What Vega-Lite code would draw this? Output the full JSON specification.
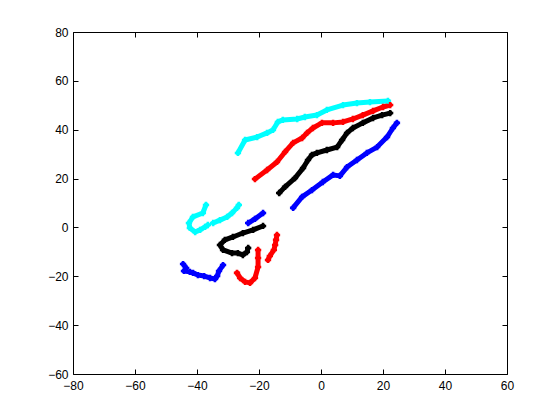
{
  "$schema": "https://vega.github.io/schema/vega-lite/v6.json",
  "autosize": "none",
  "padding": {"left": 73, "top": 32, "right": 53, "bottom": 46},
  "width": 434,
  "height": 342,
  "background": "white",
  "config": {
    "view": {"stroke": null},
    "axis": {
      "grid": false,
      "domainColor": "black",
      "domainWidth": 1,
      "tickColor": "black",
      "tickSize": -5,
      "labelColor": "black",
      "labelFont": "Liberation Sans",
      "labelFontSize": 12,
      "labelFlush": false,
      "labelOverlap": false,
      "titleFontSize": 0
    }
  },
  "data": {
    "values": [
      {"s": "cyan", "g": "c1", "i": 1, "x": -26.8, "y": 30.5},
      {"s": "cyan", "g": "c1", "i": 2, "x": -24.5, "y": 35.8},
      {"s": "cyan", "g": "c1", "i": 3, "x": -20.6, "y": 37.0},
      {"s": "cyan", "g": "c1", "i": 4, "x": -17.4, "y": 38.7},
      {"s": "cyan", "g": "c1", "i": 5, "x": -15.5, "y": 39.9},
      {"s": "cyan", "g": "c1", "i": 6, "x": -13.9, "y": 43.2},
      {"s": "cyan", "g": "c1", "i": 7, "x": -12.3, "y": 44.0},
      {"s": "cyan", "g": "c1", "i": 8, "x": -7.7, "y": 44.4},
      {"s": "cyan", "g": "c1", "i": 9, "x": -5.2, "y": 45.2},
      {"s": "cyan", "g": "c1", "i": 10, "x": -1.3, "y": 46.0},
      {"s": "cyan", "g": "c1", "i": 11, "x": 1.9, "y": 48.1},
      {"s": "cyan", "g": "c1", "i": 12, "x": 7.1, "y": 50.1},
      {"s": "cyan", "g": "c1", "i": 13, "x": 11.6, "y": 50.9},
      {"s": "cyan", "g": "c1", "i": 14, "x": 15.8, "y": 51.3},
      {"s": "cyan", "g": "c1", "i": 15, "x": 21.6, "y": 51.8},

      {"s": "cyan", "g": "c2", "i": 1, "x": -37.1, "y": 9.2},
      {"s": "cyan", "g": "c2", "i": 2, "x": -38.1, "y": 5.9},
      {"s": "cyan", "g": "c2", "i": 3, "x": -41.3, "y": 4.3},
      {"s": "cyan", "g": "c2", "i": 4, "x": -42.6, "y": 1.8},
      {"s": "cyan", "g": "c2", "i": 5, "x": -42.3, "y": -0.2},
      {"s": "cyan", "g": "c2", "i": 6, "x": -40.6, "y": -1.9},
      {"s": "cyan", "g": "c2", "i": 7, "x": -39.0, "y": -1.0},
      {"s": "cyan", "g": "c2", "i": 8, "x": -37.4, "y": 0.2},
      {"s": "cyan", "g": "c2", "i": 9, "x": -36.5, "y": 1.0},

      {"s": "cyan", "g": "c3", "i": 1, "x": -34.8, "y": 1.8},
      {"s": "cyan", "g": "c3", "i": 2, "x": -32.6, "y": 3.0},
      {"s": "cyan", "g": "c3", "i": 3, "x": -30.3, "y": 4.3},
      {"s": "cyan", "g": "c3", "i": 4, "x": -28.7, "y": 5.9},
      {"s": "cyan", "g": "c3", "i": 5, "x": -27.1, "y": 8.0},
      {"s": "cyan", "g": "c3", "i": 6, "x": -26.5, "y": 9.2},

      {"s": "red", "g": "r1", "i": 1, "x": -21.3, "y": 19.8},
      {"s": "red", "g": "r1", "i": 2, "x": -17.4, "y": 23.5},
      {"s": "red", "g": "r1", "i": 3, "x": -14.2, "y": 26.8},
      {"s": "red", "g": "r1", "i": 4, "x": -11.6, "y": 30.9},
      {"s": "red", "g": "r1", "i": 5, "x": -9.0, "y": 34.6},
      {"s": "red", "g": "r1", "i": 6, "x": -6.1, "y": 36.6},
      {"s": "red", "g": "r1", "i": 7, "x": -4.5, "y": 38.7},
      {"s": "red", "g": "r1", "i": 8, "x": -2.6, "y": 40.7},
      {"s": "red", "g": "r1", "i": 9, "x": 0.3, "y": 42.8},
      {"s": "red", "g": "r1", "i": 10, "x": 3.9, "y": 42.8},
      {"s": "red", "g": "r1", "i": 11, "x": 7.1, "y": 43.2},
      {"s": "red", "g": "r1", "i": 12, "x": 10.3, "y": 44.4},
      {"s": "red", "g": "r1", "i": 13, "x": 13.5, "y": 46.0},
      {"s": "red", "g": "r1", "i": 14, "x": 16.8, "y": 47.7},
      {"s": "red", "g": "r1", "i": 15, "x": 20.0, "y": 49.3},
      {"s": "red", "g": "r1", "i": 16, "x": 22.3, "y": 50.1},

      {"s": "red", "g": "r2", "i": 1, "x": -20.3, "y": -9.2},
      {"s": "red", "g": "r2", "i": 2, "x": -20.3, "y": -12.5},
      {"s": "red", "g": "r2", "i": 3, "x": -20.3, "y": -16.2},
      {"s": "red", "g": "r2", "i": 4, "x": -21.3, "y": -20.7},
      {"s": "red", "g": "r2", "i": 5, "x": -22.9, "y": -22.7},
      {"s": "red", "g": "r2", "i": 6, "x": -24.5, "y": -22.3},
      {"s": "red", "g": "r2", "i": 7, "x": -26.1, "y": -20.7},
      {"s": "red", "g": "r2", "i": 8, "x": -27.1, "y": -18.6},

      {"s": "red", "g": "r3", "i": 1, "x": -14.2, "y": -3.1},
      {"s": "red", "g": "r3", "i": 2, "x": -14.5, "y": -5.1},
      {"s": "red", "g": "r3", "i": 3, "x": -14.8, "y": -7.2},
      {"s": "red", "g": "r3", "i": 4, "x": -15.2, "y": -9.2},
      {"s": "red", "g": "r3", "i": 5, "x": -16.5, "y": -11.7},
      {"s": "red", "g": "r3", "i": 6, "x": -17.1, "y": -13.3},

      {"s": "black", "g": "k1", "i": 1, "x": -13.5, "y": 14.1},
      {"s": "black", "g": "k1", "i": 2, "x": -11.6, "y": 16.6},
      {"s": "black", "g": "k1", "i": 3, "x": -8.4, "y": 20.2},
      {"s": "black", "g": "k1", "i": 4, "x": -5.8, "y": 24.3},
      {"s": "black", "g": "k1", "i": 5, "x": -4.2, "y": 27.6},
      {"s": "black", "g": "k1", "i": 6, "x": -2.9, "y": 29.7},
      {"s": "black", "g": "k1", "i": 7, "x": -1.3, "y": 30.5},
      {"s": "black", "g": "k1", "i": 8, "x": 1.9, "y": 31.7},
      {"s": "black", "g": "k1", "i": 9, "x": 5.2, "y": 32.9},
      {"s": "black", "g": "k1", "i": 10, "x": 6.8, "y": 35.8},
      {"s": "black", "g": "k1", "i": 11, "x": 8.4, "y": 38.7},
      {"s": "black", "g": "k1", "i": 12, "x": 10.3, "y": 40.7},
      {"s": "black", "g": "k1", "i": 13, "x": 13.5, "y": 42.8},
      {"s": "black", "g": "k1", "i": 14, "x": 16.8, "y": 44.8},
      {"s": "black", "g": "k1", "i": 15, "x": 19.7, "y": 46.0},
      {"s": "black", "g": "k1", "i": 16, "x": 22.3, "y": 46.8},

      {"s": "black", "g": "k2", "i": 1, "x": -18.7, "y": 0.6},
      {"s": "black", "g": "k2", "i": 2, "x": -21.9, "y": -1.0},
      {"s": "black", "g": "k2", "i": 3, "x": -25.2, "y": -2.3},
      {"s": "black", "g": "k2", "i": 4, "x": -28.4, "y": -3.9},
      {"s": "black", "g": "k2", "i": 5, "x": -31.0, "y": -5.1},
      {"s": "black", "g": "k2", "i": 6, "x": -32.6, "y": -7.2},
      {"s": "black", "g": "k2", "i": 7, "x": -31.6, "y": -9.2},
      {"s": "black", "g": "k2", "i": 8, "x": -28.7, "y": -10.5},
      {"s": "black", "g": "k2", "i": 9, "x": -26.8, "y": -10.5},
      {"s": "black", "g": "k2", "i": 10, "x": -25.2, "y": -11.3},
      {"s": "black", "g": "k2", "i": 11, "x": -23.9, "y": -10.1},
      {"s": "black", "g": "k2", "i": 12, "x": -23.5, "y": -8.4},

      {"s": "blue", "g": "b1", "i": 1, "x": -9.0, "y": 8.0},
      {"s": "blue", "g": "b1", "i": 2, "x": -6.1, "y": 12.5},
      {"s": "blue", "g": "b1", "i": 3, "x": -2.9, "y": 15.3},
      {"s": "blue", "g": "b1", "i": 4, "x": 0.6, "y": 18.6},
      {"s": "blue", "g": "b1", "i": 5, "x": 3.9, "y": 21.5},
      {"s": "blue", "g": "b1", "i": 6, "x": 6.1, "y": 21.1},
      {"s": "blue", "g": "b1", "i": 7, "x": 8.4, "y": 24.7},
      {"s": "blue", "g": "b1", "i": 8, "x": 11.6, "y": 27.6},
      {"s": "blue", "g": "b1", "i": 9, "x": 14.8, "y": 30.5},
      {"s": "blue", "g": "b1", "i": 10, "x": 18.1, "y": 32.9},
      {"s": "blue", "g": "b1", "i": 11, "x": 21.3, "y": 37.0},
      {"s": "blue", "g": "b1", "i": 12, "x": 23.2, "y": 40.7},
      {"s": "blue", "g": "b1", "i": 13, "x": 24.5, "y": 42.8},

      {"s": "blue", "g": "b2", "i": 1, "x": -23.5, "y": 1.8},
      {"s": "blue", "g": "b2", "i": 2, "x": -21.3, "y": 3.5},
      {"s": "blue", "g": "b2", "i": 3, "x": -18.7, "y": 5.9},

      {"s": "blue", "g": "b3", "i": 1, "x": -44.5, "y": -15.0},
      {"s": "blue", "g": "b3", "i": 2, "x": -43.5, "y": -16.6},
      {"s": "blue", "g": "b3", "i": 3, "x": -44.2, "y": -17.8},
      {"s": "blue", "g": "b3", "i": 4, "x": -42.3, "y": -18.2},
      {"s": "blue", "g": "b3", "i": 5, "x": -41.3, "y": -18.6},
      {"s": "blue", "g": "b3", "i": 6, "x": -39.7, "y": -19.5},
      {"s": "blue", "g": "b3", "i": 7, "x": -37.7, "y": -19.9},
      {"s": "blue", "g": "b3", "i": 8, "x": -35.8, "y": -20.7},
      {"s": "blue", "g": "b3", "i": 9, "x": -34.2, "y": -21.1},
      {"s": "blue", "g": "b3", "i": 10, "x": -33.5, "y": -19.9},
      {"s": "blue", "g": "b3", "i": 11, "x": -32.9, "y": -17.8},
      {"s": "blue", "g": "b3", "i": 12, "x": -31.6, "y": -15.4}
    ]
  },
  "layer": [
    {
      "mark": {"type": "line", "strokeWidth": 5, "strokeCap": "round", "strokeJoin": "round"},
      "encoding": {
        "x": {"field": "x", "type": "quantitative", "scale": {"domain": [-80, 60], "nice": false, "zero": false}, "axis": {"values": [-80, -60, -40, -20, 0, 20, 40, 60], "title": null, "orient": "bottom", "labelPadding": 11}},
        "y": {"field": "y", "type": "quantitative", "scale": {"domain": [-60, 80], "nice": false, "zero": false}, "axis": {"values": [-60, -40, -20, 0, 20, 40, 60, 80], "title": null, "orient": "left", "labelPadding": 10}},
        "detail": {"field": "g"},
        "order": {"field": "i"},
        "color": {"field": "s", "type": "nominal", "scale": {"domain": ["cyan", "red", "black", "blue"], "range": ["#00FFFF", "#FF0000", "#000000", "#0000FF"]}, "legend": null}
      }
    },
    {
      "mark": {"type": "point", "shape": "cross", "filled": true, "size": 40, "opacity": 1},
      "encoding": {
        "x": {"field": "x", "type": "quantitative", "axis": {"values": [-80, -60, -40, -20, 0, 20, 40, 60], "title": null, "orient": "top", "labels": false}},
        "y": {"field": "y", "type": "quantitative", "axis": {"values": [-60, -40, -20, 0, 20, 40, 60, 80], "title": null, "orient": "right", "labels": false}},
        "color": {"field": "s", "type": "nominal", "legend": null}
      }
    }
  ],
  "resolve": {"axis": {"x": "independent", "y": "independent"}}
}
